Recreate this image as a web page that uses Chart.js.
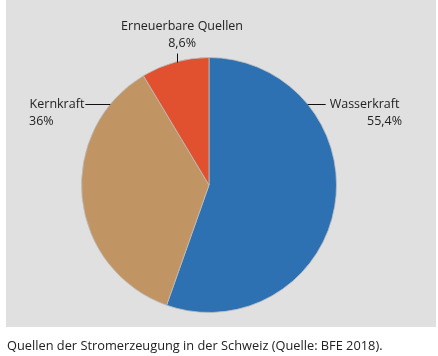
<!DOCTYPE html>
<html><head><meta charset="utf-8">
<script src="https://cdn.jsdelivr.net/npm/chart.js@4/dist/chart.umd.min.js"></script>
<style>html,body{margin:0;padding:0;background:#fff;}#wrap{width:438px;height:356px;position:relative;}</style>
</head><body><div id="wrap"><canvas id="c" width="438" height="356"></canvas></div>
<script>
const categories = ["Wasserkraft", "Kernkraft", "Erneuerbare Quellen"];
const values = [55.4, 36, 8.6];
const valueLabels = ["55,4%", "36%", "8,6%"];
const colors = ["#2e71b3", "#c09563", "#e1512f"];
const caption = "Quellen der Stromerzeugung in der Schweiz (Quelle: BFE 2018).";

const FONT = "'Open Sans', sans-serif";
const TEXT = "#222222";

const bgPlugin = {
  id: 'bg',
  beforeDraw(chart) {
    const ctx = chart.ctx;
    ctx.save();
    ctx.fillStyle = '#ffffff';
    ctx.fillRect(0, 0, chart.width, chart.height);
    ctx.fillStyle = '#e0e0e0';
    ctx.fillRect(6, 0, 430, 327);
    ctx.restore();
  }
};

// label layout: anchor angle on the rim (deg clockwise from top), leader direction, text placement
const labelLayout = [
  {angle: 50.7, dir: 'right', len: 18, tx: 402},
  {angle: 309.3, dir: 'left', len: 25, tx: 29},
  {angle: 345.5, dir: 'up', len: 8, tx: null}
];

const labelPlugin = {
  id: 'labels',
  afterDraw(chart) {
    const ctx = chart.ctx;
    const arc = chart.getDatasetMeta(0).data[0];
    const {x: cx, y: cy, outerRadius: r} = arc.getProps(['x','y','outerRadius'], true);
    ctx.save();
    ctx.strokeStyle = '#111';
    ctx.lineWidth = 1;
    ctx.fillStyle = TEXT;
    ctx.font = "12.5px " + FONT;
    ctx.textBaseline = 'middle';
    labelLayout.forEach((L, i) => {
      const a = L.angle * Math.PI / 180;
      const px = cx + r * Math.sin(a), py = cy - r * Math.cos(a);
      ctx.beginPath();
      if (L.dir === 'up') {
        const x = Math.round(px) + 0.5;
        ctx.moveTo(x, py + 1); ctx.lineTo(x, py - L.len);
        ctx.stroke();
        ctx.textAlign = 'center';
        ctx.fillText(categories[i], px + 5, py - L.len - 27);
        ctx.fillText(valueLabels[i], px + 5, py - L.len - 10);
      } else {
        const y = Math.round(py) + 0.5;
        const ex = L.dir === 'right' ? px + L.len : px - L.len;
        ctx.moveTo(px, y); ctx.lineTo(ex, y);
        ctx.stroke();
        if (L.dir === 'right') {
          ctx.textAlign = 'left';
          ctx.fillText(categories[i], ex + 4, py);
          ctx.textAlign = 'right';
          ctx.fillText(valueLabels[i], L.tx, py + 17);
        } else {
          ctx.textAlign = 'right';
          ctx.fillText(categories[i], ex - 1, py);
          ctx.textAlign = 'left';
          ctx.fillText(valueLabels[i], L.tx, py + 17);
        }
      }
    });
    ctx.textAlign = 'left';
    ctx.font = "12.8px " + FONT;
    ctx.fillText(caption, 7, 346);
    ctx.restore();
  }
};

new Chart(document.getElementById('c'), {
  type: 'pie',
  data: {
    labels: categories,
    datasets: [{
      data: values,
      backgroundColor: colors,
      borderColor: 'rgba(190,190,190,0.8)',
      borderWidth: 1
    }]
  },
  options: {
    responsive: false,
    animation: false,
    rotation: 0,
    layout: {padding: {top: 57, bottom: 43, left: 81, right: 101}},
    plugins: {legend: {display: false}, tooltip: {enabled: false}}
  },
  plugins: [bgPlugin, labelPlugin]
});
</script>
</body></html>
